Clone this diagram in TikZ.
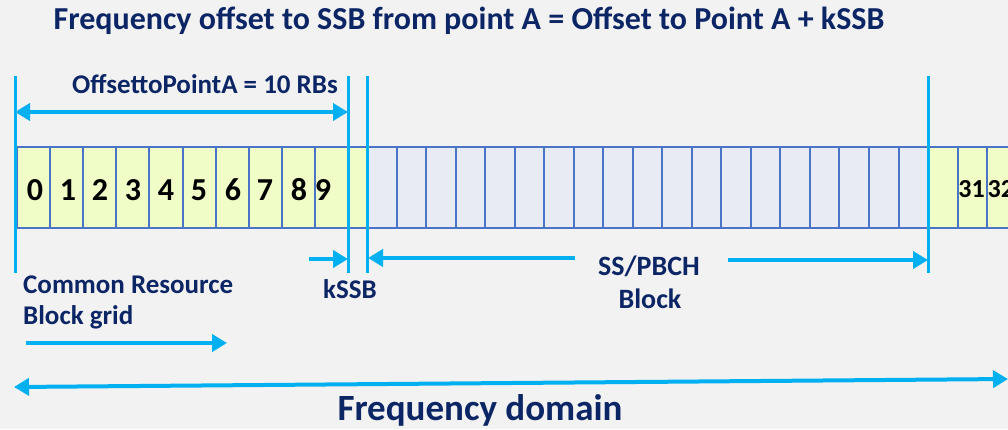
\documentclass[tikz,border=0pt]{standalone}
\usepackage{fontspec}
\setmainfont{Carlito}
\usetikzlibrary{arrows.meta}
\definecolor{bgc}{HTML}{F2F2F2}
\definecolor{navy}{HTML}{0B2565}
\definecolor{cyanl}{HTML}{00B0F0}
\definecolor{gridc}{HTML}{4A74C6}
\definecolor{yelc}{HTML}{F0FDC6}
\definecolor{bluc}{HTML}{E8EAF4}
\tikzset{
  lbl/.style={font=\bfseries\fontsize{27}{30}\selectfont, text=navy, inner sep=0pt},
  digit/.style={font=\bfseries\fontsize{32}{34}\selectfont, text=black, inner sep=0pt},
  sdigit/.style={font=\bfseries\fontsize{26}{28}\selectfont, text=black, inner sep=0pt},
  mark line/.style={draw=cyanl, line width=3pt},
  cyarrow/.style={draw=cyanl, line width=4pt, -{Triangle[length=15pt,width=17pt]}},
  cyarrows/.style={draw=cyanl, line width=4pt, {Triangle[length=15pt,width=17pt]}-{Triangle[length=15pt,width=17pt]}},
  cellline/.style={draw=gridc, line width=2pt},
}
\begin{document}
\begin{tikzpicture}[x=1pt,y=-1pt]
\useasboundingbox (0,0) rectangle (1008,429);
\fill[bgc] (0,0) rectangle (1008,429);
% grid fills
\fill[yelc] (17,147) rectangle (367,228);
\fill[bluc] (367,147) rectangle (928,228);
\fill[yelc] (928,147) rectangle (1010,228);
% cell lines
\foreach \k in {0,...,10} \draw[cellline] ({17+33.1*\k},147) -- ({17+33.1*\k},228);
\foreach \k in {0,...,19} \draw[cellline] ({367+29.53*\k},147) -- ({367+29.53*\k},228);
\foreach \k in {0,...,3} \draw[cellline] ({928+29.5*\k},147) -- ({928+29.5*\k},228);
\draw[cellline] (16,147) -- (1010,147);
\draw[cellline] (16,228) -- (1010,228);
% digits
\foreach \d/\x in {0/35,1/68,2/100,3/133,4/166,5/199,6/233,7/265,8/299,9/323}
  \node[digit] (d\d) at (\x,190) {\d};
\node[sdigit, anchor=east] (d31) at (985,189) {31};
\node[sdigit, anchor=west] (d32) at (987.5,189) {32};
% vertical marker lines
\coordinate (a1) at (15,76); \coordinate (a2) at (15,273);
\coordinate (b1) at (348,76); \coordinate (b2) at (348,273);
\coordinate (c1) at (367,76); \coordinate (c2) at (367,273);
\coordinate (e1) at (928,76); \coordinate (e2) at (928,273);
\draw[mark line] (a1) -- (a2);
\draw[mark line] (b1) -- (b2);
\draw[mark line] (c1) -- (c2);
\draw[mark line] (e1) -- (e2);
% arrows
\coordinate (oL) at (15,112); \coordinate (oR) at (348,112);
\draw[cyarrows] (oL) -- (oR);
\coordinate (kS) at (309,259); \coordinate (kE) at (348,259);
\draw[cyarrow] (kS) -- (kE);
\coordinate (sS) at (575,258); \coordinate (sE) at (368,258);
\draw[cyarrow] (sS) -- (sE);
\coordinate (tS) at (728,260); \coordinate (tE) at (928,260);
\draw[cyarrow] (tS) -- (tE);
\coordinate (gS) at (26,343); \coordinate (gE) at (227,343);
\draw[cyarrow] (gS) -- (gE);
\coordinate (fL) at (14,387); \coordinate (fR) at (1008,379);
\draw[cyarrows] (fL) -- (fR);
% labels
\node[font=\bfseries\fontsize{32}{36}\selectfont, text=navy, inner sep=0pt] (title) at (469,21) {Frequency offset to SSB from point A = Offset to Point A + kSSB};
\node[lbl] (offs) at (205,84) {OffsettoPointA = 10 RBs};
\node[lbl, anchor=west] (crb1) at (23,285) {Common Resource};
\node[lbl, anchor=west] (crb2) at (23,317) {Block grid};
\node[lbl] (kssb) at (350,289) {kSSB};
\node[lbl, font=\bfseries\fontsize{28}{30}\selectfont] (ss1) at (649,266) {SS/PBCH};
\node[lbl, font=\bfseries\fontsize{28}{30}\selectfont] (ss2) at (650,299) {Block};
\node[font=\bfseries\fontsize{37}{40}\selectfont, text=navy, inner sep=0pt] (freq) at (480,410) {Frequency domain};
\end{tikzpicture}
\end{document}
